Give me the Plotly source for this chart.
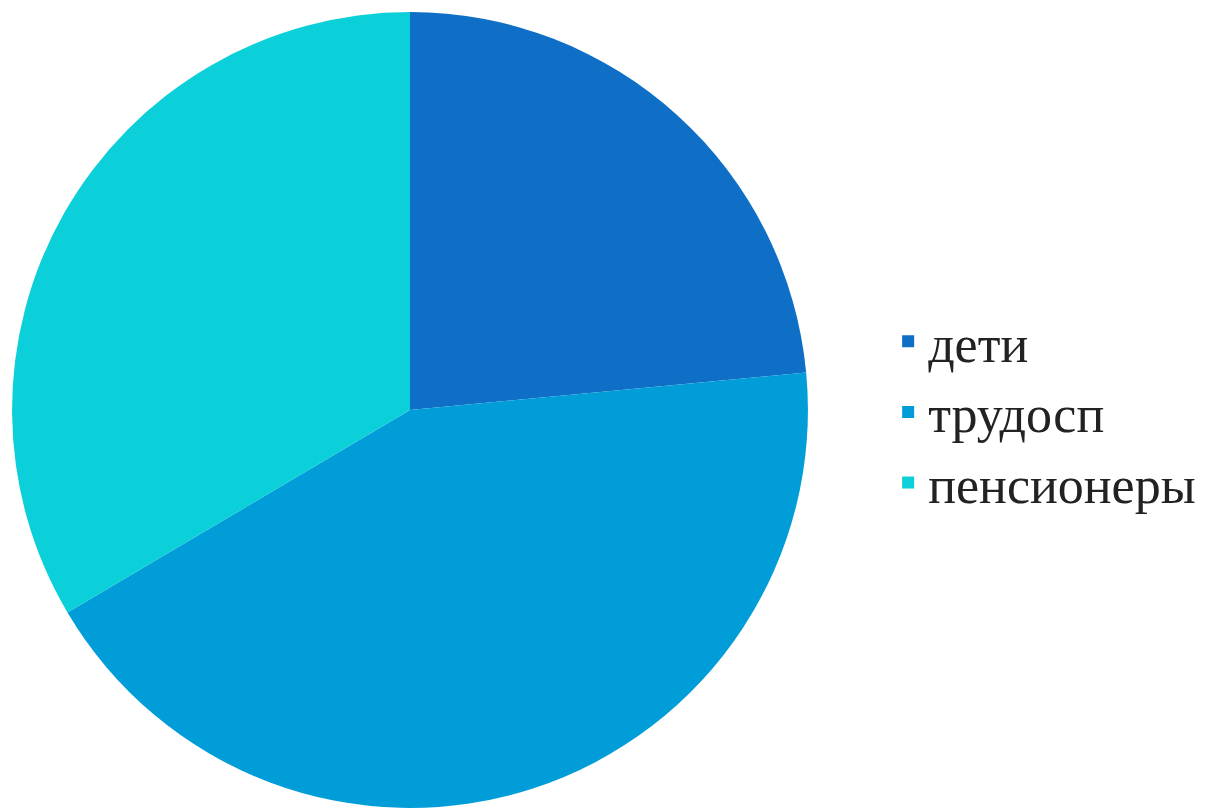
import plotly.graph_objects as go

labels = ["дети", "трудосп", "пенсионеры"]
values = [23.5, 43.0, 33.5]
colors = ["#0F6FC6", "#009DD9", "#0BD0D9"]

fig = go.Figure(go.Pie(
    labels=labels, values=values, sort=False, direction="clockwise",
    rotation=0, textinfo="none", marker=dict(colors=colors),
    domain=dict(x=[0.0, 0.665], y=[0.01, 0.995]),
))
fig.update_layout(
    width=1209, height=808, margin=dict(l=0, r=0, t=0, b=0),
    paper_bgcolor="white",
    legend=dict(x=0.728, y=0.5, yanchor="middle", xanchor="left",
                font=dict(family="Liberation Serif", size=52, color="#222"),
                itemsizing="constant"),
)
fig.write_html("out.html")
